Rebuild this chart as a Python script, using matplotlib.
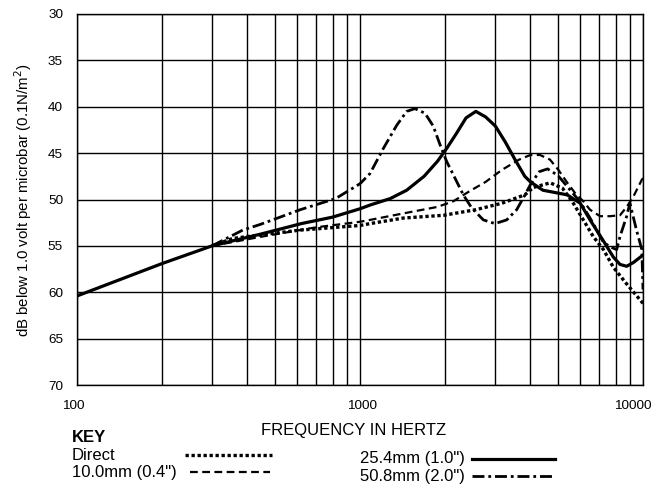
import matplotlib
matplotlib.use('Agg')
import matplotlib.pyplot as plt
from matplotlib.lines import Line2D
from matplotlib.ticker import FixedLocator, NullFormatter

plt.rcParams['font.family'] = ['Liberation Sans', 'DejaVu Sans']

# Response curves (frequency in Hz, dB below 1 V/microbar)
direct_f = [300, 355, 450, 615, 1000, 1085, 1423, 1977, 2566, 3175, 3822, 4100,
            4700, 5200, 5673, 6152, 6674, 7245, 7854, 8700, 10000]
direct_db = [55.0, 54.2, 53.8, 53.3, 52.8, 52.6, 52.0, 51.7, 51.1, 50.4, 49.5, 48.7,
             48.2, 48.8, 50.4, 52.2, 54.0, 55.4, 57.3, 59.0, 61.2]

mm10_f = [300, 450, 700, 1000, 1085, 1423, 1876, 2134, 2440, 2780, 3175, 3649,
          4000, 4325, 4692, 5021, 5374, 5751, 6153, 6497, 7048, 7646, 8293, 8756,
          9243, 9892, 10000]
mm10_db = [55.0, 54.0, 53.0, 52.4, 52.2, 51.5, 50.8, 50.2, 49.1, 48.1, 46.8, 45.7,
           45.2, 45.2, 45.7, 46.8, 48.1, 49.3, 50.2, 51.1, 51.8, 51.8, 51.7, 50.8,
           49.7, 47.9, 47.7]

mm25_f = [100, 200, 300, 450, 620, 800, 1000, 1085, 1279, 1462, 1684, 1876, 2024,
          2189, 2370, 2566, 2780, 3011, 3261, 3530, 3822, 4000, 4430, 5400, 6000,
          6500, 7223, 7854, 8293, 8756, 9243, 9800, 10000]
mm25_db = [60.4, 56.9, 55.0, 53.7, 52.6, 51.9, 51.0, 50.6, 49.9, 49.0, 47.5, 45.9, 44.5,
           42.9, 41.2, 40.5, 41.1, 42.1, 43.8, 45.7, 47.5, 48.1, 49.0, 49.5, 50.4,
           52.2, 54.4, 56.2, 57.0, 57.2, 56.8, 56.2, 56.0]

mm50_f = [300, 385, 443, 615, 820, 1000, 1085, 1209, 1348, 1462, 1564, 1697, 1816,
          1918, 2024, 2166, 2318, 2480, 2728, 2999, 3299, 3578, 3828, 4000, 4300,
          4600, 5000, 5400, 5900, 6150, 6500, 7245, 7646, 8072, 8293, 8756, 8990,
          9485, 9907, 10000]
mm50_db = [55.0, 53.3, 52.7, 51.1, 49.9, 48.3, 47.2, 44.5, 42.0, 40.5, 40.2, 40.7, 42.1,
           44.1, 45.9, 47.7, 49.5, 50.9, 52.2, 52.6, 52.2, 51.1, 49.5, 48.4, 47.0,
           46.7, 47.4, 48.6, 50.0, 50.8, 52.0, 54.6, 55.1, 55.4, 54.0, 51.8, 50.4,
           53.3, 55.4, 59.7]

x_ticks = [100, 1000, 10000]
x_tick_labels = ['100', '1000', '10000']
y_ticks = [30, 35, 40, 45, 50, 55, 60, 65, 70]

DOT = (0, (1, 0.8))
DASH = (0, (3.5, 2))
DASHDOT = (0, (4.3, 1.4, 1, 1.4))

W, H = 652, 484
fig = plt.figure(figsize=(W / 100, H / 100), dpi=100)
ax = fig.add_axes([77 / W, 1 - 385 / H, (643 - 77) / W, (385 - 14) / H])

ax.plot(direct_f, direct_db, color='black', lw=2.4, linestyle=DOT)
ax.plot(mm10_f, mm10_db, color='black', lw=1.6, linestyle=DASH)
ax.plot(mm50_f, mm50_db, color='black', lw=2.0, linestyle=DASHDOT)
ax.plot(mm25_f, mm25_db, color='black', lw=2.3, linestyle='-')

ax.set_xscale('log')
ax.set_xlim(100, 10000)
ax.set_ylim(70, 30)
ax.set_yticks(y_ticks)
ax.xaxis.set_major_locator(FixedLocator(x_ticks))
ax.xaxis.set_minor_locator(FixedLocator([m * d for d in (100, 1000) for m in range(2, 10)]))
ax.xaxis.set_major_formatter(NullFormatter())
ax.xaxis.set_minor_formatter(NullFormatter())
ax.grid(True, which='both', color='black', lw=1.0)
ax.set_axisbelow(True)
ax.tick_params(which='both', length=0)
ax.tick_params(axis='y', labelsize=9.7, pad=10)
for s in ax.spines.values():
    s.set_linewidth(1.0)

# x tick labels, nudged like the original print
for f, lab, dx in zip(x_ticks, x_tick_labels, [-4, 2, -10]):
    ax.annotate(lab, xy=(f, 0), xycoords=('data', 'axes fraction'),
                xytext=(dx, -21), textcoords='offset pixels',
                ha='center', va='center', fontsize=9.7)

fig.text(354 / W, 1 - 430 / H, 'FREQUENCY IN HERTZ', ha='center', va='center', fontsize=12)
fig.text(23 / W, 1 - 200 / H, 'dB below 1.0 volt per microbar (0.1N/m$^2$)',
         rotation=90, ha='center', va='center', fontsize=10.8)

# key
fig.text(72 / W, 1 - 438 / H, 'KEY', fontsize=12, fontweight='bold', va='center')
key = [('Direct', 72, 455, 185, 272, DOT, 2.4),
       ('10.0mm (0.4")', 72, 472, 190, 270, DASH, 1.6),
       ('25.4mm (1.0")', 360, 459, 472, 555, '-', 2.3),
       ('50.8mm (2.0")', 360, 476, 472, 555, DASHDOT, 2.0)]
for lab, tx, ty, x0, x1, ls, lw in key:
    fig.text(tx / W, 1 - ty / H, lab, fontsize=12, va='center')
    fig.add_artist(Line2D([x0 / W, x1 / W], [1 - ty / H, 1 - ty / H],
                          transform=fig.transFigure, color='black', lw=lw, linestyle=ls))

fig.savefig('out.png', dpi=100)
